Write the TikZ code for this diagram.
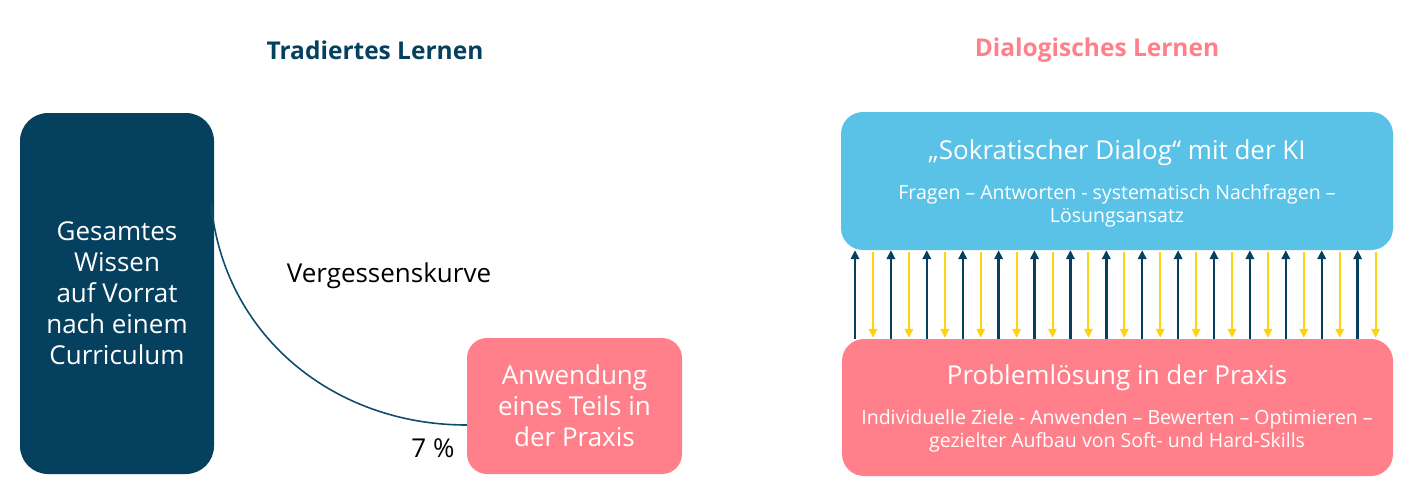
\documentclass[tikz,border=0pt]{standalone}
\usepackage{fontspec}
\setmainfont{Open Sans}
\usetikzlibrary{arrows.meta,calc}
\definecolor{navy}{HTML}{06405F}
\definecolor{rosa}{HTML}{FF7F8A}
\definecolor{himmel}{HTML}{5BC2E7}
\definecolor{gelb}{HTML}{FFD20F}
\begin{document}
\begin{tikzpicture}[x=1pt,y=-1pt,
  box/.style={rectangle,rounded corners=#1,inner sep=0pt,draw=none},
  white text/.style={text=white,align=center},
  big/.style={font=\fontsize{26}{31}\selectfont},
  small/.style={font=\fontsize{19.5}{23}\selectfont},
  headline/.style={font=\fontsize{24.5}{28}\selectfont\bfseries},
  uparrow/.style={draw=navy,line width=2.4pt,-{Triangle[length=9pt,width=8.5pt]}},
  downarrow/.style={draw=gelb,line width=2pt,-{Triangle[length=9pt,width=8.5pt]}},
  curve/.style={draw=navy!90!himmel,line width=1.6pt}]
\useasboundingbox (0,0) rectangle (1411,501);
% titles
\node[headline,text=navy] (t1) at (375,50) {Tradiertes Lernen};
\node[headline,text=rosa] (t2) at (1097,50) {Dialogisches Lernen};
% left side
\node[box=28pt,fill=navy,minimum width=194pt,minimum height=361pt] (lbox) at (117,293.5) {};
\node[white text,big] (ltext) at (lbox.center) {Gesamtes\\Wissen\\auf Vorrat\\nach einem\\Curriculum};
\node[box=20pt,fill=rosa,minimum width=215pt,minimum height=136pt] (sbox) at (574.5,406) {};
\node[white text,big] (stext) at (sbox.center) {Anwendung\\eines Teils in\\der Praxis};
\coordinate (cstart) at ($(lbox.north east)+(-3,91)$);
\coordinate (cend) at ($(sbox.west)+(0,19)$);
\draw[curve] (cstart) .. controls ($(cstart)+(12,130)$) and ($(cend)+(-135,0)$) .. (cend);
\node[big,text=black] (vk) at (389,276) {Vergessenskurve};
\node[big,text=black] (pct) at (433,448) {7 \%};
% right side
\node[box=22pt,fill=himmel,minimum width=552pt,minimum height=138pt] (bbox) at (1117,181) {};
\node[white text,big] (btitle) at (1117,153) {„Sokratischer Dialog“ mit der KI};
\node[white text,small] (bsub) at (1117,205.5) {Fragen – Antworten - systematisch Nachfragen –\\Lösungsansatz};
\node[box=22pt,fill=rosa,minimum width=551pt,minimum height=137pt] (pbox) at (1117.5,407.5) {};
\node[white text,big] (ptitle) at (1117,378) {Problemlösung in der Praxis};
\node[white text,small] (psub) at (1117,430.5) {Individuelle Ziele - Anwenden – Bewerten – Optimieren –\\gezielter Aufbau von Soft- und Hard-Skills};
\foreach \i in {0,...,14}{
  \pgfmathsetmacro{\xa}{855+35.9*\i}
  \pgfmathsetmacro{\xb}{873+35.9*\i}
  \draw[uparrow] (\xa,0 |- pbox.north) -- (\xa,0 |- bbox.south);
  \draw[downarrow] ($(\xb,0 |- bbox.south)+(0,2)$) -- ($(\xb,0 |- pbox.north)+(0,-1)$);
}
\end{tikzpicture}
\end{document}
